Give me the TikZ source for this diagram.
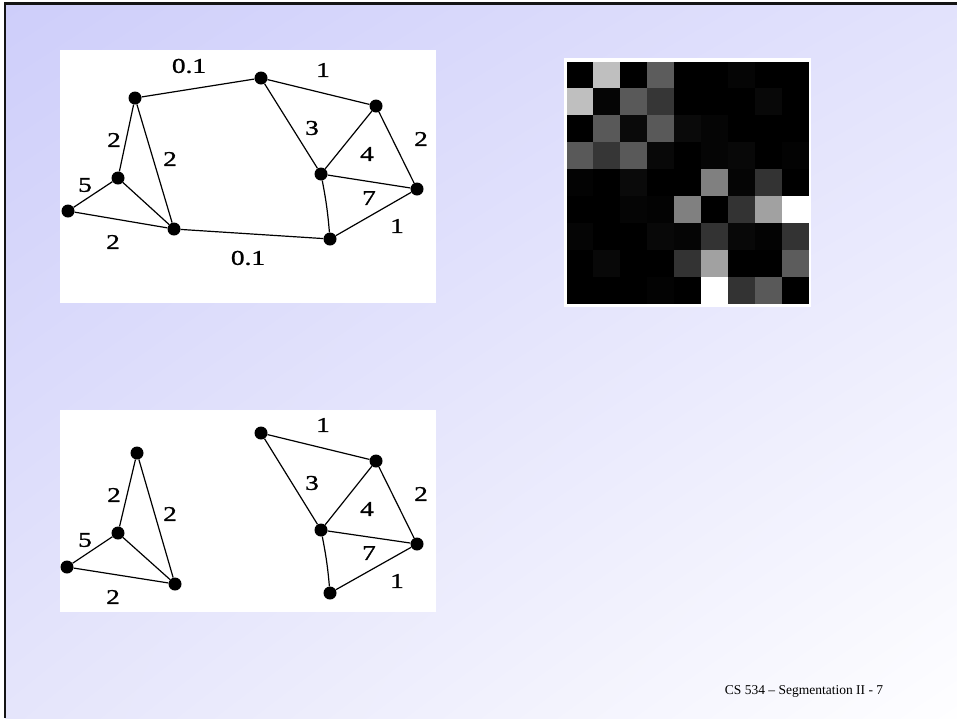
\documentclass[tikz,border=0pt]{standalone}
\usepackage{fontspec}
\setmainfont{Liberation Serif}
\newfontfamily\wgtfont[FakeStretch=1.3,FakeBold=1.2]{Liberation Serif}
\usepackage{xcolor}
\usepackage{tikz}
\usetikzlibrary{shadings}

\definecolor{slidetl}{RGB}{206,206,250}
\definecolor{slidetr}{RGB}{226,226,252}
\definecolor{slidebl}{RGB}{229,229,251}
\definecolor{slidebr}{RGB}{254,254,255}

\begin{document}
\begin{tikzpicture}[x=1pt,y=-1pt,
  vtx/.style={circle,fill=black,inner sep=0pt,minimum size=13pt},
  wgt/.style={inner sep=0pt,font=\wgtfont\fontsize{21}{21}\selectfont},
  link/.style={line width=1.2pt}]
  \useasboundingbox (0,0) rectangle (957,718);
  % slide background and frame
  \shade[upper left=slidetl,upper right=slidetr,lower left=slidebl,lower right=slidebr] (5,4) rectangle (957,718);
  \draw[line width=2.5pt,black!92] (957,3.5) -- (5,3.5) -- (5,718);
  \fill[white] (60,50) rectangle (436,303);
  \fill[white] (60,410) rectangle (436,612);
  \fill[white] (564,58) rectangle (811,307);

  % affinity matrix
  \foreach \row [count=\r] in {{0,75,0,36,0,0,2,0,0},{75,2,35,21,0,0,0,3,0},{0,35,4,35,4,2,0,0,0},
      {35,21,35,3,0,2,3,0,1},{1,0,4,0,0,50,2,20,0},{0,0,2,1,50,0,20,63,100},
      {2,0,0,3,2,20,3,1,20},{0,3,0,0,20,63,0,0,36},{0,0,0,1,0,100,20,35,0}} {
    \foreach \v [count=\c] in \row
      \fill[white!\v!black] ({566.5+26.9*(\c-1)},{61.5+26.9*(\r-1)}) rectangle +(27.1,27.1);
  }

  % full graph
  \node[vtx] (ta) at (135,98) {};
  \node[vtx] (tb) at (261,78) {};
  \node[vtx] (tc) at (376,106) {};
  \node[vtx] (td) at (118,178) {};
  \node[vtx] (te) at (68,211) {};
  \node[vtx] (tf) at (174,229) {};
  \node[vtx] (tg) at (321,174) {};
  \node[vtx] (th) at (417,189) {};
  \node[vtx] (ti) at (330,239) {};
  \draw[link] (ta) -- (tb);
  \draw[link] (tb) -- (tc);
  \draw[link] (ta) -- (td);
  \draw[link] (ta) -- (tf);
  \draw[link] (td) -- (te);
  \draw[link] (td) -- (tf);
  \draw[link] (te) -- (tf);
  \draw[link] (tf) -- (ti);
  \draw[link] (tb) -- (tg);
  \draw[link] (tc) -- (tg);
  \draw[link] (tc) -- (th);
  \draw[link] (tg) -- (th);
  \draw[link] (tg) to[bend left=3] (ti);
  \draw[link] (th) -- (ti);
  \node[wgt] (tw1) at (189,66) {0.1};
  \node[wgt] (tw2) at (323,70) {1};
  \node[wgt] (tw3) at (114,140) {2};
  \node[wgt] (tw4) at (170,159) {2};
  \node[wgt] (tw5) at (85,185) {5};
  \node[wgt] (tw6) at (113,242) {2};
  \node[wgt] (tw7) at (248,258) {0.1};
  \node[wgt] (tw8) at (312,128) {3};
  \node[wgt] (tw9) at (367,154) {4};
  \node[wgt] (tw10) at (421,139) {2};
  \node[wgt] (tw11) at (369,198) {7};
  \node[wgt] (tw12) at (397,226) {1};

  % after the cut
  \node[vtx] (ba) at (137,453) {};
  \node[vtx] (bb) at (261,433) {};
  \node[vtx] (bc) at (376,461) {};
  \node[vtx] (bd) at (118,533) {};
  \node[vtx] (be) at (67,567) {};
  \node[vtx] (bf) at (175,584) {};
  \node[vtx] (bg) at (321,530) {};
  \node[vtx] (bh) at (417,544) {};
  \node[vtx] (bi) at (330,593) {};
  \draw[link] (bb) -- (bc);
  \draw[link] (ba) -- (bd);
  \draw[link] (ba) -- (bf);
  \draw[link] (bd) -- (be);
  \draw[link] (bd) -- (bf);
  \draw[link] (be) -- (bf);
  \draw[link] (bb) -- (bg);
  \draw[link] (bc) -- (bg);
  \draw[link] (bc) -- (bh);
  \draw[link] (bg) -- (bh);
  \draw[link] (bg) to[bend left=3] (bi);
  \draw[link] (bh) -- (bi);
  \node[wgt] (bw1) at (114,495) {2};
  \node[wgt] (bw2) at (170,514) {2};
  \node[wgt] (bw3) at (85,540) {5};
  \node[wgt] (bw4) at (113,597) {2};
  \node[wgt] (bw5) at (323,425) {1};
  \node[wgt] (bw6) at (312,483) {3};
  \node[wgt] (bw7) at (367,509) {4};
  \node[wgt] (bw8) at (421,494) {2};
  \node[wgt] (bw9) at (369,553) {7};
  \node[wgt] (bw10) at (397,581) {1};

  \node[anchor=base,inner sep=0pt,font=\fontsize{13.5}{14}\selectfont] (foot) at (804,694) {CS 534 – Segmentation II - 7};
\end{tikzpicture}
\end{document}
